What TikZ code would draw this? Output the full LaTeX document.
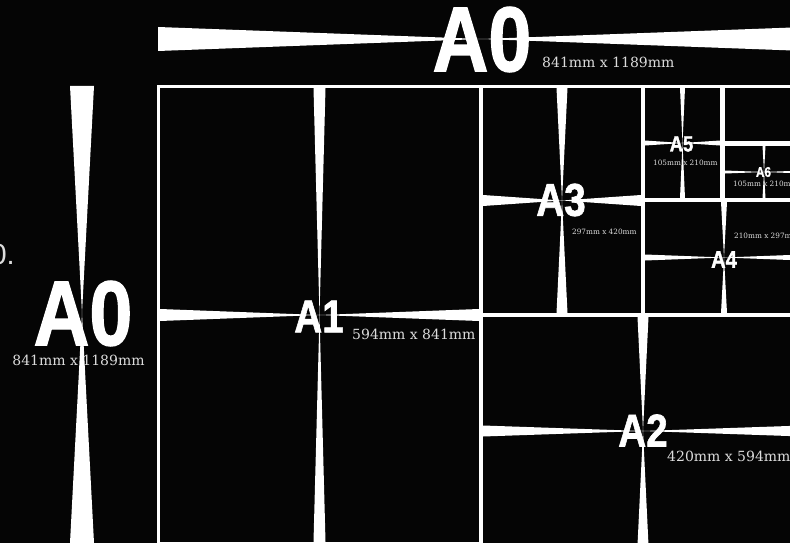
\documentclass[tikz,border=0pt]{standalone}
\usepackage{fontspec}
\setmainfont{DejaVu Serif}
\newfontfamily\gradefont{Liberation Sans}[BoldFeatures={FakeBold=1.5}]
\usepackage{tikz}
\definecolor{bgc}{HTML}{050505}
\definecolor{dimc}{HTML}{DCDCDC}
\tikzset{
  sheet/.style={fill=bgc},
  sliver/.style={fill=white},
  tag/.style={text=white,inner sep=0pt,font=\gradefont\bfseries},
  dim/.style={text=dimc,inner sep=0pt,anchor=base west,font=\fontsize{14}{16}\selectfont},
  smalldim/.style={dim,font=\fontsize{7.3}{8}\selectfont}
}
\newcommand{\sheetname}[2]{\fontsize{#1}{#1}\selectfont\scalebox{0.84}[1]{#2}}

\begin{document}
\begin{tikzpicture}[x=1pt,y=-1pt]
\fill[bgc] (0,0) rectangle (790,543);
\useasboundingbox (0,0) rectangle (790,543);
\clip (0,0) rectangle (790,543);
% A0 along the top and down the side
\fill[sliver] (158,27) -- (482,39) -- (158,51) -- cycle (806,27) -- (482,39) -- (806,51) -- cycle;
\fill[sliver] (70,86) -- (82,313) -- (94,86) -- cycle (70,543) -- (82,313) -- (94,543) -- cycle;
% the cut sheets
\fill[white] (157,85) rectangle (806,546);
\fill[sheet] (725,88) rectangle (803,141);
\foreach \xa/\ya/\xb/\yb/\w in {160/88/479/542/12, 483/317/803/545/11, 483/88/641/313/11,
                                645/202/803/313/6, 645/88/720/198/5, 725/146/803/198/3}{
  \pgfmathsetmacro\cx{(\xa+\xb)/2}
  \pgfmathsetmacro\cy{(\ya+\yb)/2}
  \fill[sheet] (\xa,\ya) rectangle (\xb,\yb);
  \fill[sliver] (\cx-\w/2,\ya) -- (\cx,\cy) -- (\cx+\w/2,\ya) -- cycle
    (\cx-\w/2,\yb) -- (\cx,\cy) -- (\cx+\w/2,\yb) -- cycle
    (\xa,\cy-\w/2) -- (\cx,\cy) -- (\xa,\cy+\w/2) -- cycle
    (\xb,\cy-\w/2) -- (\cx,\cy) -- (\xb,\cy+\w/2) -- cycle;
}
\node[tag] (a0top) at (482,39.5) {\sheetname{92}{A0}};
\node[dim] (a0topdim) at (542,68) {841mm x 1189mm};
\node[tag] (a0side) at (83,313.5) {\sheetname{92}{A0}};
\node[dim,anchor=base] (a0sidedim) at (78.5,365) {841mm x 1189mm};
\node[text=dimc,inner sep=0pt,anchor=base east,font=\gradefont\fontsize{29}{29}\selectfont] (cut) at (15,264) {0.};
\node[tag] (a1) at (319,316.5) {\sheetname{46}{A1}};
\node[dim] (a1dim) at (352,339) {594mm x 841mm};
\node[tag] (a2) at (643,430.5) {\sheetname{46}{A2}};
\node[dim] (a2dim) at (667,461) {420mm x 594mm};
\node[tag] (a3) at (561,200) {\sheetname{46}{A3}};
\node[smalldim] (a3dim) at (572,234) {297mm x 420mm};
\node[tag] (a4) at (724,259.5) {\sheetname{24}{A4}};
\node[smalldim] (a4dim) at (734,238.5) {210mm x 297mm};
\node[tag] (a5) at (681.5,144) {\sheetname{22}{A5}};
\node[smalldim] (a5dim) at (653,165) {105mm x 210mm};
\node[tag] (a6) at (763.5,172) {\sheetname{14}{A6}};
\node[smalldim] (a6dim) at (733,186) {105mm x 210mm};
\end{tikzpicture}
\end{document}
